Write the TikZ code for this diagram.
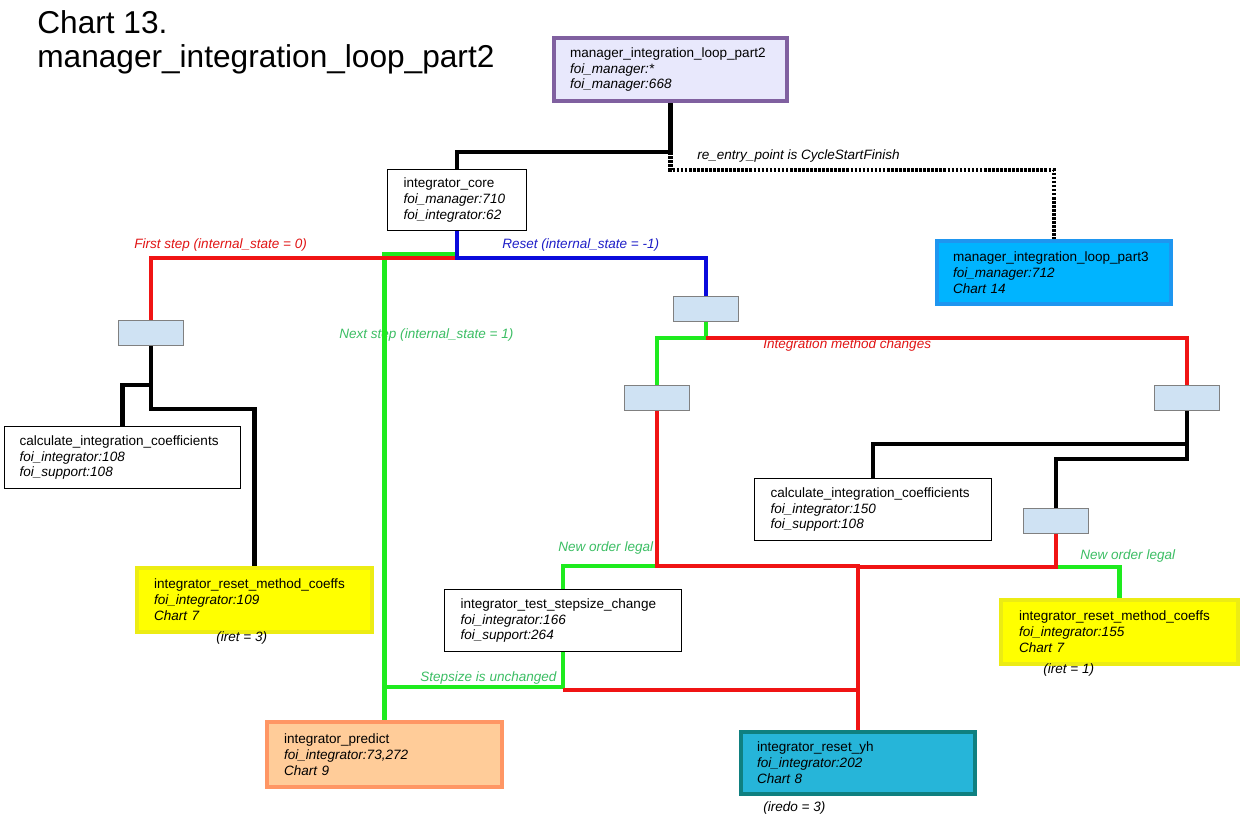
\documentclass[tikz,border=0pt]{standalone}
\usepackage{fontspec}
\setmainfont{Liberation Sans}
\definecolor{lav}{RGB}{232,232,252}
\definecolor{purp}{RGB}{128,96,160}
\definecolor{pthreefill}{RGB}{0,180,255}
\definecolor{pthreeb}{RGB}{30,150,240}
\definecolor{yel}{RGB}{255,255,0}
\definecolor{yelb}{RGB}{236,236,20}
\definecolor{peach}{RGB}{255,204,153}
\definecolor{peachb}{RGB}{255,150,100}
\definecolor{yhfill}{RGB}{38,181,217}
\definecolor{yhb}{RGB}{15,128,128}
\definecolor{decfill}{RGB}{207,226,243}
\definecolor{decb}{RGB}{128,128,128}
\definecolor{lred}{RGB}{240,20,20}
\definecolor{lgreen}{RGB}{30,235,30}
\definecolor{lblue}{RGB}{10,10,220}
\definecolor{tgreen}{RGB}{60,190,100}
\definecolor{tred}{RGB}{225,20,20}
\definecolor{tblue}{RGB}{30,30,200}
\begin{document}
\begin{tikzpicture}[x=0.02cm,y=-0.02cm]
\tikzset{
  bx/.style={anchor=north west, align=left, inner ysep=0pt, font=\fontsize{7.7}{9.07}\selectfont},
  plainbox/.style={bx, fill=white, draw=black, line width=0.6pt},
  thickbox/.style={bx, line width=2.3pt},
  decbox/.style={draw=decb, fill=decfill, line width=0.6pt, minimum width=1.3cm, minimum height=0.5cm, anchor=north west, inner sep=0pt},
  conn/.style={line width=2.3pt},
  blk/.style={conn, draw=black},
  rd/.style={conn, draw=lred},
  gr/.style={conn, draw=lgreen},
  bl/.style={conn, draw=lblue},
  dotl/.style={conn, draw=black, dash pattern=on 1.5pt off 0.8pt},
  lbl/.style={anchor=west, inner sep=0pt, font=\fontsize{7.7}{9.07}\selectfont\itshape},
}
\fill[white] (0,0) rectangle (1250,824);
\useasboundingbox (0,0) rectangle (1250,824);

% title
\node[anchor=north west, inner sep=0pt, align=left, font=\fontsize{18}{19.3}\selectfont] (title) at (37,10)
  {Chart 13.\\manager\_integration\_loop\_part2};

% boxes
\node[thickbox, fill=lav, draw=purp, minimum width=4.66cm, minimum height=1.26cm, text width=4.02cm, inner xsep=0.32cm] (top) at (552,36)
  {manager\_integration\_loop\_part2\\\textit{foi\_manager:*}\\\textit{foi\_manager:668}};
\node[plainbox, minimum width=2.78cm, minimum height=1.22cm, text width=2.14cm, inner xsep=0.32cm] (core) at (387,169)
  {integrator\_core\\\textit{foi\_manager:710}\\\textit{foi\_integrator:62}};
\node[thickbox, fill=pthreefill, draw=pthreeb, minimum width=4.68cm, minimum height=1.26cm, text width=4.04cm, inner xsep=0.32cm] (pthree) at (935,239)
  {manager\_integration\_loop\_part3\\\textit{foi\_manager:712}\\\textit{Chart 14}};
\node[plainbox, minimum width=4.72cm, minimum height=1.24cm, text width=4.12cm, inner xsep=0.3cm] (calcL) at (4,426)
  {calculate\_integration\_coefficients\\\textit{foi\_integrator:108}\\\textit{foi\_support:108}};
\node[thickbox, fill=yel, draw=yelb, minimum width=4.70cm, minimum height=1.28cm, text width=4.02cm, inner xsep=0.34cm] (rmcL) at (135,566)
  {integrator\_reset\_method\_coeffs\\\textit{foi\_integrator:109}\\\textit{Chart 7}};
\node[plainbox, minimum width=4.74cm, minimum height=1.24cm, text width=4.1cm, inner xsep=0.32cm] (calcR) at (754,478)
  {calculate\_integration\_coefficients\\\textit{foi\_integrator:150}\\\textit{foi\_support:108}};
\node[plainbox, minimum width=4.74cm, minimum height=1.24cm, text width=4.1cm, inner xsep=0.32cm] (tsc) at (444,589)
  {integrator\_test\_stepsize\_change\\\textit{foi\_integrator:166}\\\textit{foi\_support:264}};
\node[thickbox, fill=yel, draw=yelb, minimum width=4.74cm, minimum height=1.28cm, text width=4.02cm, inner xsep=0.36cm] (rmcR) at (999,598)
  {integrator\_reset\_method\_coeffs\\\textit{foi\_integrator:155}\\\textit{Chart 7}};
\node[thickbox, fill=peach, draw=peachb, minimum width=4.70cm, minimum height=1.30cm, text width=4.02cm, inner xsep=0.34cm] (pred) at (265,720)
  {integrator\_predict\\\textit{foi\_integrator:73,272}\\\textit{Chart 9}};
\node[thickbox, fill=yhfill, draw=yhb, minimum width=4.68cm, minimum height=1.24cm, text width=4.04cm, inner xsep=0.32cm] (ryh) at (739,730)
  {integrator\_reset\_yh\\\textit{foi\_integrator:202}\\\textit{Chart 8}};

% decision boxes
\node[decbox] (dA) at (118,320) {};
\node[decbox] (dB) at (673,296) {};
\node[decbox] (dC) at (624,385) {};
\node[decbox] (dD) at (1154,385) {};
\node[decbox] (dE) at (1023,508) {};

% labels
\node[lbl] (l1) at (697,156) {re\_entry\_point is CycleStartFinish};
\node[lbl, text=tred] (l2) at (134,245) {First step (internal\_state = 0)};
\node[lbl, text=tblue] (l3) at (502,245) {Reset (internal\_state = -1)};
\node[lbl, text=tgreen] (l4) at (339,335) {Next step (internal\_state = 1)};
\node[lbl, text=tred] (l5) at (763,345) {Integration method changes};
\node[lbl, text=tgreen] (l6) at (558,548) {New order legal};
\node[lbl, text=tgreen] (l7) at (1080,556) {New order legal};
\node[lbl, text=tgreen] (l8) at (420,678) {Stepsize is unchanged};
\node[lbl] (l9) at (216,638) {(iret = 3)};
\node[lbl] (l10) at (1043,670) {(iret = 1)};
\node[lbl] (l11) at (763,808) {(iredo = 3)};

% connectors
\draw[blk] (top.south) -- ++(0,49) -| (core.north);
\path (top.south) ++(0,49) coordinate (jtop);
\draw[dotl] (jtop) -- ++(0,18) -| (pthree.north);

\draw[gr] (core.south) ++(0,23) -| (pred.north);
\draw[rd] (core.south) ++(0,27) -| (dA.north);
\draw[bl] (core.south) -- ++(0,27) -| (dB.north);

\draw[blk] (dA.south) -- ++(0,63) -| (rmcL.north);
\draw[blk] (dA.south) ++(0,39) -| (calcL.north);

\draw[gr] (dB.south) -- ++(0,16) -| (dC.north);
\draw[rd] (dB.south) ++(0,16) -| (dD.north);

\draw[blk] (dD.south) -- ++(0,33) -| (calcR.north);
\draw[blk] (dD.south) -- ++(0,48) -| (dE.north);

\draw[gr] (dC.south) ++(0,155) -| (tsc.north);
\draw[rd] (dC.south) -- ++(0,155) -| (ryh.north);
\draw[gr] (dE.south) ++(0,33) -| (rmcR.north);
\draw[rd] (dE.south) -- ++(0,33) -| (ryh.north);

\draw[gr] (tsc.south) -- ++(0,35) -| (pred.north);
\draw[rd] (tsc.south) ++(0,38) -| (ryh.north);
\end{tikzpicture}
\end{document}
